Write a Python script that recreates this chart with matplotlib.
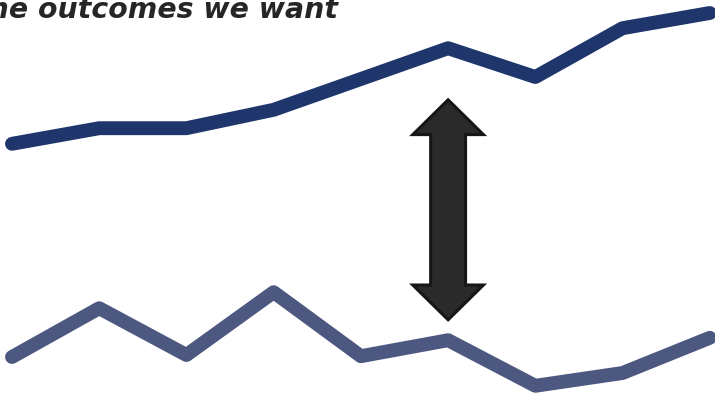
import matplotlib.pyplot as plt
from matplotlib.patches import Polygon

# two series over nine periods (arbitrary index units)
periodos = list(range(9))
resultado_desejado = [63.3, 67.2, 67.2, 71.8, 79.5, 87.2, 80.0, 92.2, 96.0]
resultado_atual = [10.0, 22.2, 10.5, 26.2, 10.2, 14.2, 2.8, 6.0, 14.8]

titulo = "the outcomes we want"

COR_DESEJADO = "#1f366c"
COR_ATUAL = "#4d5880"
COR_SETA = "#2a2a2a"
COR_BORDA = "#161616"

# gap arrow between the two lines at period 5
SETA_X = 5
SETA_TOPO = 74.3
SETA_BASE = 19.3


def seta_dupla(x, y0, y1, haste=0.40, largura=0.81, cabeca=8.7):
    """polygon of a vertical double-headed block arrow"""
    h, w = haste / 2, largura / 2
    return [
        (x, y1), (x + w, y1 - cabeca), (x + h, y1 - cabeca),
        (x + h, y0 + cabeca), (x + w, y0 + cabeca), (x, y0),
        (x - w, y0 + cabeca), (x - h, y0 + cabeca), (x - h, y1 - cabeca),
        (x - w, y1 - cabeca),
    ]


fig = plt.figure(figsize=(7.15, 3.97), dpi=100)
ax = fig.add_axes([0, 0, 1, 1])

ax.plot(periodos, resultado_desejado, color=COR_DESEJADO, lw=10,
        solid_capstyle="round", solid_joinstyle="round")
ax.plot(periodos, resultado_atual, color=COR_ATUAL, lw=10,
        solid_capstyle="round", solid_joinstyle="round")

ax.add_patch(Polygon(seta_dupla(SETA_X, SETA_BASE, SETA_TOPO), closed=True,
                     facecolor=COR_SETA, edgecolor=COR_BORDA, lw=2.2,
                     joinstyle="miter", zorder=3))

ax.set_xlim(-0.1375, 8.06)
ax.set_ylim(0, 99.25)
ax.axis("off")

fig.text(338 / 715, 1 - 18 / 397, titulo, ha="right", va="baseline",
         fontsize=20.4, fontweight="bold", fontstyle="italic",
         family=["DejaVu Sans"], color="#262626")

fig.savefig("out.png", dpi=100, facecolor="white")
